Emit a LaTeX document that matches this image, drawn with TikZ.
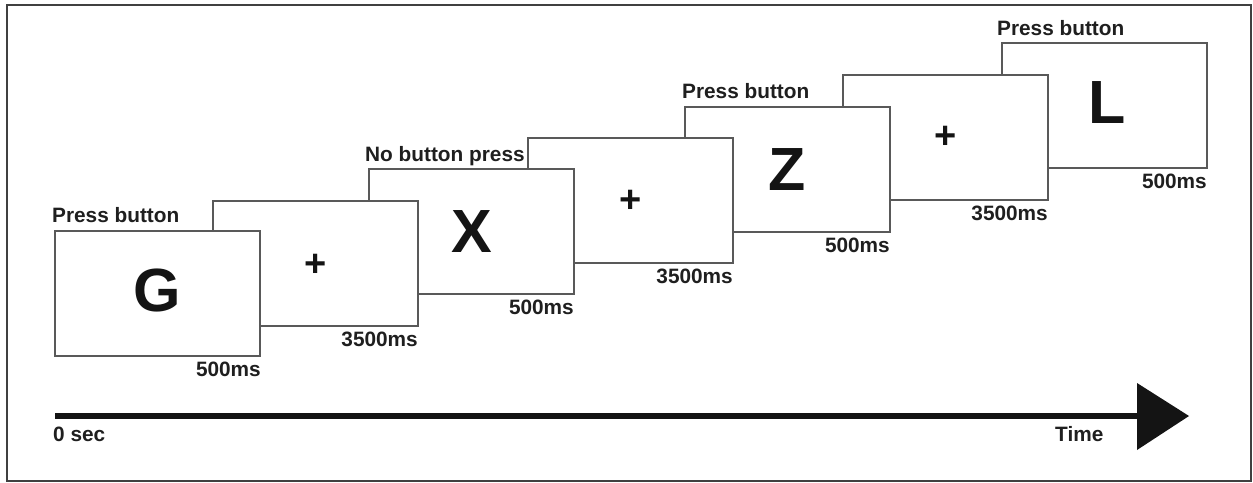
\documentclass[tikz,border=0pt]{standalone}
\usepackage{fontspec}
\setmainfont{Liberation Sans}
\usetikzlibrary{calc}
\begin{document}
\begin{tikzpicture}[x=1pt,y=-1pt,
  screen/.style={draw=black!65, line width=1.4pt, fill=white, minimum width=205pt, minimum height=125pt, inner sep=0pt, outer sep=0pt, anchor=north west},
  lbl/.style={font=\fontsize{20.8}{24}\selectfont\bfseries, inner sep=0pt, text=black!88},
  big/.style={font=\fontsize{61}{70}\selectfont\bfseries, inner sep=0pt, text=black!92},
  cross/.style={font=\fontsize{38}{40}\selectfont\bfseries, inner sep=0pt, text=black!92}]
\useasboundingbox (0,0) rectangle (1253,482);
\fill[white] (0,0) rectangle (1253,482);
\draw[black!75, line width=2pt] (7,5) rectangle (1251,481);

% screens, back to front
\node[screen] (sL) at (1002,43) {};
\node[screen] (p3) at (843,75) {};
\node[screen] (sZ) at (685,107) {};
\node[screen] (p2) at (528,138) {};
\node[screen] (sX) at (369,169) {};
\node[screen] (p1) at (213,201) {};
\node[screen] (sG) at (55,231) {};

% contents
\node[big] (tG) at ($(sG.center)+(0,-3)$) {G};
\node[big] (tX) at ($(sX.center)+(0,0)$) {X};
\node[big] (tZ) at ($(sZ.center)+(0,0)$) {Z};
\node[big] (tL) at ($(sL.center)+(3,-3)$) {L};
\node[cross] (c1) at ($(p1.center)+(0,2)$) {+};
\node[cross] (c2) at ($(p2.center)+(0,1)$) {+};
\node[cross] (c3) at ($(p3.center)+(0,0)$) {+};

% instructions
\node[lbl, anchor=base west] (iG) at ($(sG.north west)+(-3,-9)$) {Press button};
\node[lbl, anchor=base west] (iX) at ($(sX.north west)+(-4,-8)$) {No button press};
\node[lbl, anchor=base west] (iZ) at ($(sZ.north west)+(-3,-9)$) {Press button};
\node[lbl, anchor=base west] (iL) at ($(sL.north west)+(-5,-8)$) {Press button};

% durations
\node[lbl, anchor=base east] (dG) at ($(sG.south east)+(1,20)$) {500ms};
\node[lbl, anchor=base east] (d1) at ($(p1.south east)+(0,20)$) {3500ms};
\node[lbl, anchor=base east] (dX) at ($(sX.south east)+(0,20)$) {500ms};
\node[lbl, anchor=base east] (d2) at ($(p2.south east)+(0,20)$) {3500ms};
\node[lbl, anchor=base east] (dZ) at ($(sZ.south east)+(0,20)$) {500ms};
\node[lbl, anchor=base east] (d3) at ($(p3.south east)+(0,20)$) {3500ms};
\node[lbl, anchor=base east] (dL) at ($(sL.south east)+(0,20)$) {500ms};

% time axis
\coordinate (t0) at (55,416);
\coordinate (t1) at (1137,416);
\coordinate (tip) at (1189,416);
\coordinate (bt) at (1137,383);
\coordinate (bb) at (1137,450);
\draw[line width=6pt, black!92] (t0) -- (t1);
\fill[black!92] (bt) -- (tip) -- (bb) -- cycle;
\node[lbl, anchor=base west] (zero) at (53,441) {0 sec};
\node[lbl, anchor=base west] (time) at (1055,441) {Time};
\end{tikzpicture}
\end{document}
